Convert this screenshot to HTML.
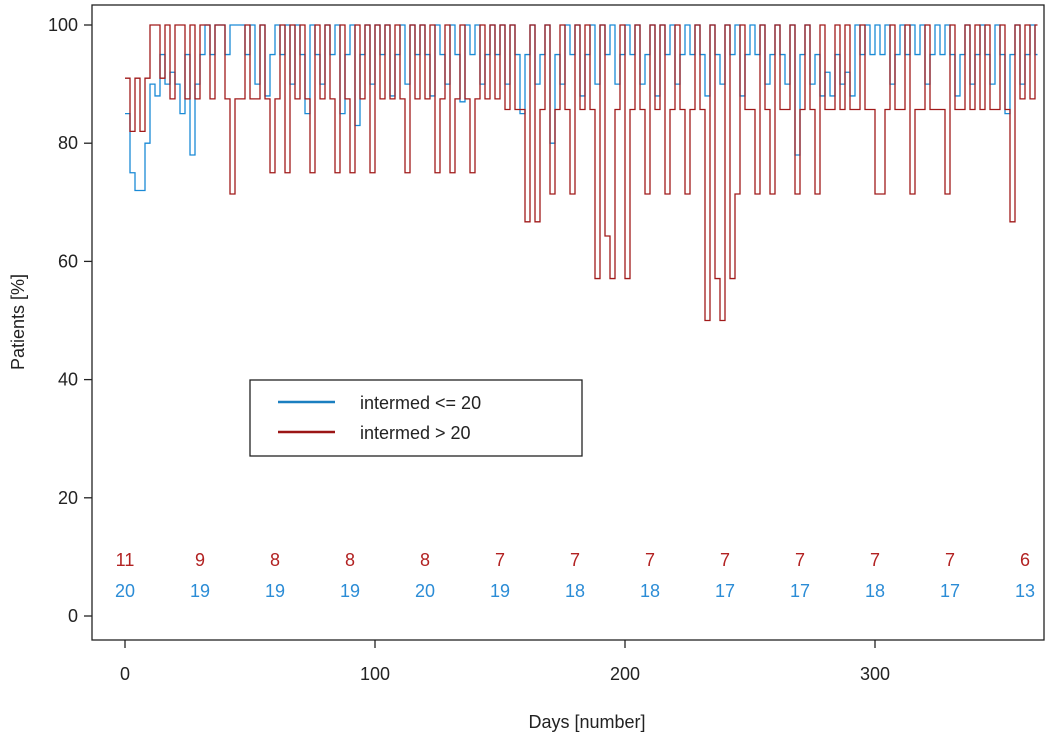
<!DOCTYPE html>
<html><head><meta charset="utf-8"><style>
body{margin:0;background:#fff;}
svg{display:block;font-family:"Liberation Sans",sans-serif;}
</style></head><body>
<svg id="chart" width="1059" height="745" viewBox="0 0 1059 745">
<rect x="92" y="5" width="952" height="635" fill="none" stroke="#222" stroke-width="1.3"/>
<g id="axes"></g>
<g id="series"></g>
<g id="counts"></g>
<text x="587" y="728" font-size="18" text-anchor="middle" fill="#222">Days [number]</text>
<text transform="translate(24,322) rotate(-90)" font-size="18" text-anchor="middle" fill="#222">Patients [%]</text>
<g>
<rect x="250" y="380" width="332" height="76" fill="#fff" stroke="#222" stroke-width="1.3"/>
<line x1="278" y1="402" x2="335" y2="402" stroke="#1a7fc0" stroke-width="2.5"/>
<text x="360" y="409" font-size="18" fill="#222">intermed &lt;= 20</text>
<line x1="278" y1="432" x2="335" y2="432" stroke="#9b1515" stroke-width="2.5"/>
<text x="360" y="439" font-size="18" fill="#222">intermed &gt; 20</text>
</g>
</svg>
<script>
const xTicks=[0,100,200,300];
const yTicks=[0,20,40,60,80,100];
const stepDays=2;
const redValues=[91,82,91,82,91,100,
100,91,100,87.5,100,100,87.5,100,87.5,100,100,87.5,100,100,87.5,
71.4,87.5,87.5,100,87.5,87.5,100,87.5,75,87.5,
100,75,100,87.5,100,87.5,75,100,87.5,100,87.5,75,100,87.5,75,100,87.5,100,75,100,
87.5,100,87.5,100,87.5,75,100,87.5,100,87.5,100,75,87.5,100,75,87.5,100,87.5,75,87.5,100,87.5,100,87.5,100,
85.7,100,85.7,85.7,66.7,100,66.7,85.7,100,71.4,85.7,100,85.7,71.4,100,85.7,100,85.7,57.1,100,64.3,57.1,85.7,100,57.1,
85.7,100,85.7,71.4,100,85.7,100,71.4,85.7,100,85.7,71.4,85.7,100,85.7,50,100,57.1,50,100,57.1,71.4,100,85.7,85.7,
71.4,100,85.7,71.4,100,85.7,85.7,100,71.4,85.7,100,85.7,71.4,100,85.7,85.7,100,85.7,100,85.7,85.7,100,85.7,85.7,71.4,
71.4,85.7,100,85.7,85.7,100,71.4,85.7,85.7,100,85.7,85.7,85.7,71.4,100,85.7,85.7,100,85.7,100,85.7,100,85.7,85.7,100,85.7,66.7,100,87.5,100,87.5,100];
const blueValues=[85,75,72,72,80,90,
88,95,90,92,90,85,95,78,90,95,100,95,100,100,95,
100,100,100,95,100,90,100,88,95,100,
95,100,90,100,95,85,100,95,90,100,95,100,85,95,100,83,95,100,90,100,
95,100,88,95,100,90,100,95,100,95,88,100,95,90,100,95,87,100,95,100,90,95,100,95,100,
90,100,95,85,95,100,90,95,100,80,95,90,100,95,100,88,95,100,90,100,95,100,90,95,100,
95,100,90,95,100,88,100,95,100,90,95,100,95,100,95,88,100,95,90,100,95,100,88,95,100,
95,100,90,95,100,95,90,100,78,95,100,90,95,88,92,88,95,90,92,88,100,95,100,95,100,
95,100,90,95,100,95,100,95,100,90,95,100,95,100,95,88,95,100,90,95,100,95,90,100,95,85,95,100,90,95,100,95];
const countDays=[0,30,60,90,120,150,180,210,240,270,300,330,360];
const redCounts=[11,9,8,8,8,7,7,7,7,7,7,7,6];
const blueCounts=[20,19,19,19,20,19,18,18,17,17,18,17,13];

const NS="http://www.w3.org/2000/svg";
const xs=d=>125+d*2.5;
const ys=v=>616-v*5.91;
function mk(tag,attrs,parent){const e=document.createElementNS(NS,tag);for(const k in attrs)e.setAttribute(k,attrs[k]);parent.appendChild(e);return e;}
const axes=document.getElementById('axes');
xTicks.forEach(t=>{
  const l=mk('line',{x1:xs(t),x2:xs(t),y1:640,y2:648,stroke:'#222','stroke-width':1.3},axes);
  
  
  const tx=mk('text',{x:xs(t),y:680,'font-size':18,'text-anchor':'middle',fill:'#222'},axes);
  tx.textContent=t;
  
  
});
yTicks.forEach(t=>{
  const l=mk('line',{x1:84,x2:92,y1:ys(t),y2:ys(t),stroke:'#222','stroke-width':1.3},axes);
  
  
  const tx=mk('text',{x:78,y:ys(t)+6,'font-size':18,'text-anchor':'end',fill:'#222'},axes);
  tx.textContent=t;
  
  
});
function stepPath(vals){
  let d='';
  vals.forEach((v,i)=>{
    const x0=xs(i*stepDays),x1=xs(Math.min((i+1)*stepDays,365));
    d+=(i===0?'M':'L')+x0+','+ys(v)+'L'+x1+','+ys(v);
  });
  return d;
}
const g=document.getElementById('series');
const pb=mk('path',{d:stepPath(blueValues),fill:'none',stroke:'#1a8ad6','stroke-width':1.3},g);


const pr=mk('path',{d:stepPath(redValues),fill:'none',stroke:'#a01a1a','stroke-width':1.3},g);


const c=document.getElementById('counts');
countDays.forEach((d,i)=>{
  const r=mk('text',{x:xs(d),y:566,'font-size':18,'text-anchor':'middle',fill:'#b22222'},c);
  r.textContent=redCounts[i];
  
  
  const b=mk('text',{x:xs(d),y:597,'font-size':18,'text-anchor':'middle',fill:'#2b8cd6'},c);
  b.textContent=blueCounts[i];
  
  
});
</script>
</body></html>
